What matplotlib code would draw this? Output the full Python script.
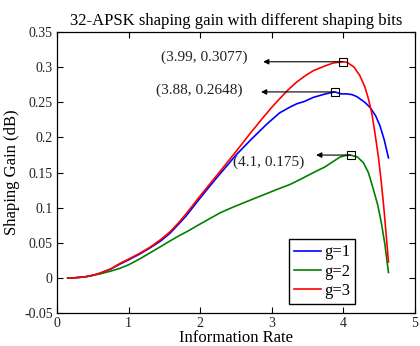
import matplotlib
matplotlib.use("Agg")
import matplotlib.pyplot as plt

plt.rcParams['font.family'] = ['Liberation Serif', 'DejaVu Serif']

# g=1 (blue)
x_g1 = [0.15, 0.25, 0.4, 0.5, 0.6, 0.75, 0.88, 1.0, 1.15, 1.3, 1.45, 1.58, 1.7, 1.8, 1.9,
        2.0, 2.2, 2.35, 2.5, 2.7, 2.93, 3.11, 3.25, 3.35, 3.45, 3.58, 3.75, 3.88, 3.97,
        4.05, 4.12, 4.19, 4.3, 4.37, 4.45, 4.51, 4.57, 4.63]
y_g1 = [0.0, 0.0005, 0.002, 0.004, 0.007, 0.013, 0.020, 0.026, 0.034, 0.043, 0.053, 0.064,
        0.077, 0.088, 0.101, 0.114, 0.139, 0.157, 0.175, 0.196, 0.219, 0.235, 0.243,
        0.248, 0.251, 0.257, 0.262, 0.2648, 0.262, 0.262, 0.261, 0.258, 0.250, 0.243,
        0.231, 0.217, 0.197, 0.171]

# g=2 (green)
x_g2 = [0.15, 0.25, 0.4, 0.5, 0.6, 0.75, 0.88, 1.0, 1.15, 1.3, 1.45, 1.58, 1.7, 1.83, 2.0,
        2.28, 2.46, 2.75, 3.07, 3.25, 3.39, 3.6, 3.74, 3.86, 3.95, 4.03, 4.1, 4.2, 4.28,
        4.35, 4.42, 4.48, 4.53, 4.58, 4.63]
y_g2 = [0.0, 0.0005, 0.002, 0.004, 0.006, 0.010, 0.014, 0.019, 0.027, 0.036, 0.045, 0.053,
        0.060, 0.067, 0.077, 0.093, 0.101, 0.113, 0.126, 0.133, 0.140, 0.151, 0.158,
        0.166, 0.172, 0.1745, 0.175, 0.172, 0.164, 0.150, 0.126, 0.104, 0.079, 0.048,
        0.008]

# g=3 (red)
x_g3 = [0.15, 0.25, 0.4, 0.5, 0.6, 0.75, 0.88, 1.0, 1.15, 1.3, 1.45, 1.58, 1.7, 1.8, 1.9,
        2.0, 2.2, 2.35, 2.5, 2.7, 2.86, 3.0, 3.1, 3.22, 3.35, 3.47, 3.58, 3.75, 3.86,
        3.99, 4.05, 4.15, 4.23, 4.3, 4.35, 4.4, 4.44, 4.49, 4.53, 4.57, 4.60, 4.63]
y_g3 = [0.0, 0.0005, 0.002, 0.004, 0.007, 0.013, 0.021, 0.027, 0.035, 0.044, 0.055, 0.066,
        0.079, 0.091, 0.104, 0.117, 0.142, 0.161, 0.180, 0.206, 0.226, 0.243, 0.254,
        0.267, 0.279, 0.288, 0.295, 0.302, 0.306, 0.3077, 0.307, 0.300, 0.288, 0.272,
        0.255, 0.233, 0.207, 0.172, 0.136, 0.095, 0.059, 0.023]

peaks_x = [3.99, 3.88, 4.1]
peaks_y = [0.3077, 0.2648, 0.175]
peak_labels = ['(3.99, 0.3077)', '(3.88, 0.2648)', '(4.1, 0.175)']

fig = plt.figure(figsize=(4.2, 3.46), dpi=100)
ax = fig.add_axes([0.1357, 0.0945, 0.8523, 0.813])

ax.plot(x_g1, y_g1, color=(0, 0, 1), lw=1.2, label='g=1')
ax.plot(x_g2, y_g2, color=(0, 0.5, 0), lw=1.2, label='g=2')
ax.plot(x_g3, y_g3, color=(1, 0, 0), lw=1.2, label='g=3')

ax.plot(peaks_x, peaks_y, linestyle='none', marker='s', markersize=5.5,
        markerfacecolor='none', markeredgecolor='black', markeredgewidth=0.8)

# arrows and labels
arrow_tips = [2.88, 2.85, 3.62]
text_pos = [(2.66, 0.3147), (2.59, 0.2676), (3.45, 0.165)]
for px, py, tip, lab, (tx, ty) in zip(peaks_x, peaks_y, arrow_tips, peak_labels, text_pos):
    ax.annotate('', xy=(tip, py), xytext=(px, py),
                arrowprops=dict(arrowstyle='-|>', color='black', lw=0.8,
                                mutation_scale=8, shrinkA=0, shrinkB=0))
    ax.text(tx, ty, lab, ha='right', va='center', fontsize=11, color='#222222')

ax.set_xlim(0, 5)
ax.set_ylim(-0.05, 0.35)
ax.set_xticks([0, 1, 2, 3, 4, 5])
ax.set_yticks([-0.05, 0, 0.05, 0.1, 0.15, 0.2, 0.25, 0.3, 0.35])
ax.set_xticklabels(['0', '1', '2', '3', '4', '5'])
ax.set_yticklabels(['-0.05', '0', '0.05', '0.1', '0.15', '0.2', '0.25', '0.3', '0.35'])
ax.tick_params(direction='in', top=True, right=True, length=4, width=0.8,
               labelsize=10, colors='black', labelcolor='#222222', pad=3)
for s in ax.spines.values():
    s.set_linewidth(0.9)

ax.set_xlabel('Information Rate', fontsize=12, labelpad=0)
ax.set_ylabel('Shaping Gain (dB)', fontsize=12, labelpad=3)
ax.set_title('32-APSK shaping gain with different shaping bits', fontsize=12, pad=5)

leg = ax.legend(loc='lower left', bbox_to_anchor=(0.649, 0.033), borderaxespad=0,
                fontsize=12, fancybox=False, edgecolor='black', framealpha=1,
                handlelength=1.6, handletextpad=0.2, borderpad=0.3, labelspacing=0.2)
leg.get_frame().set_linewidth(1.0)

fig.savefig('out.png', dpi=100)
